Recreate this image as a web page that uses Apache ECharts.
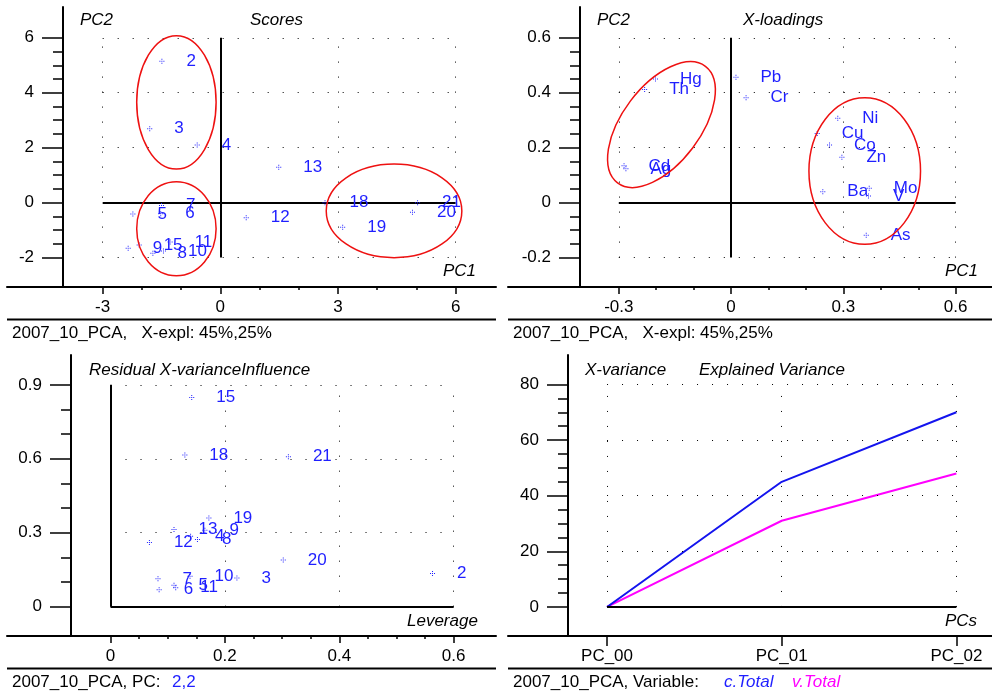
<!DOCTYPE html>
<html><head><meta charset="utf-8">
<script src="https://cdn.jsdelivr.net/npm/echarts@6/dist/echarts.min.js"></script>
<style>html,body{margin:0;padding:0;background:#fff}#c{width:992px;height:696px}</style>
</head><body><div id="c"></div>
<script>
// ---------- data ----------
const sampleIds = ['2','3','4','5','6','7','8','9','10','11','12','13','15','18','19','20','21'];
const scorePC1 = [-1.49,-1.80,-0.59,-2.23,-1.52,-1.50,-1.72,-2.35,-1.45,-1.28,0.66,1.49,-2.07,2.67,3.12,4.90,5.03];
const scorePC2 = [5.15,2.69,2.10,-0.41,-0.40,-0.10,-1.84,-1.66,-1.76,-1.43,-0.55,1.29,-1.54,0.00,-0.90,-0.35,0.00];
const leverage = [0.563,0.221,0.140,0.111,0.085,0.083,0.152,0.165,0.139,0.114,0.068,0.111,0.142,0.130,0.172,0.302,0.311];
const residualVar = [0.135,0.116,0.286,0.087,0.069,0.113,0.272,0.310,0.123,0.077,0.260,0.313,0.849,0.615,0.360,0.189,0.608];
const loadingVars = ['Hg','Th','Cd','Ag','Pb','Cr','Ni','Cu','Co','Zn','Ba','Mo','V','As'];
const loadPC1 = [-0.202,-0.231,-0.286,-0.281,0.013,0.040,0.285,0.230,0.263,0.296,0.245,0.369,0.367,0.361];
const loadPC2 = [0.450,0.412,0.134,0.123,0.456,0.382,0.307,0.252,0.210,0.165,0.040,0.052,0.024,-0.119];
const pcLabels = ['PC_00','PC_01','PC_02'];
const cTotal = [0,45,70];
const vTotal = [0,31,48];

// tick values
const scoreXMajor = [-3,0,3,6], scoreXMinor = [-2,-1,1,2,4,5];
const scoreYMajor = [-2,0,2,4,6], scoreYMinor = [-1.5,-1,-0.5,0.5,1,1.5,2.5,3,3.5,4.5,5,5.5];
const loadXMajor = [-0.3,0,0.3,0.6], loadXMinor = [-0.2,-0.1,0.1,0.2,0.4,0.5];
const loadYMajor = [-0.2,0,0.2,0.4,0.6], loadYMinor = [-0.15,-0.1,-0.05,0.05,0.1,0.15,0.25,0.3,0.35,0.45,0.5,0.55];
const infXMajor = [0,0.2,0.4,0.6], infXMinor = [0.05,0.1,0.15,0.25,0.3,0.35,0.45,0.5,0.55];
const infYMajor = [0,0.3,0.6,0.9], infYMinor = [0.1,0.2,0.4,0.5,0.7,0.8];
const varXMajor = [0,1,2];
const varYMajor = [0,20,40,60,80], varYMinor = [5,10,15,25,30,35,45,50,55,65,70,75];

// ---------- styling ----------
const FONT = '"Liberation Sans", Arial, sans-serif';
const FS = 17;
const BLUE = '#1f1fff';
const dotStyle = {color:'#000', width:1, type:[1,14]};
const solidStyle = {color:'#000', width:2, type:'solid'};
const crossPath = 'path://M2,0h1v1h-1z M0,2h1v1h-1z M4,2h1v1h-1z M2,4h1v1h-1z M2,2h1v1h-1z';

const chart = echarts.init(document.getElementById('c'), null, {renderer:'canvas'});

function xAxes(g, min, max, major, minor, fmt, majorLen, minorLen, margin) {
  const base = {type:'value', gridIndex:g, min, max, position:'bottom', splitLine:{show:false}};
  return [
    Object.assign({}, base, {
      axisLine:{show:true,onZero:false,lineStyle:{color:'#000',width:2}},
      axisTick:{show:true,customValues:major,length:majorLen,lineStyle:{color:'#000',width:1.5}},
      axisLabel:{show:true,customValues:major,margin:margin,color:'#000',fontSize:FS,fontFamily:FONT,formatter:fmt}
    }),
    Object.assign({}, base, {
      axisLine:{show:false,onZero:false},
      axisTick:{show:minor.length>0,customValues:minor.length?minor:[min],length:minorLen,lineStyle:{color:'#000',width:1.5}},
      axisLabel:{show:false}
    })
  ];
}
function yAxes(g, min, max, major, minor, offset) {
  const base = {type:'value', gridIndex:g, min, max, position:'left', offset:offset, splitLine:{show:false}};
  return [
    Object.assign({}, base, {
      axisLine:{show:true,onZero:false,lineStyle:{color:'#000',width:2}},
      axisTick:{show:true,customValues:major,length:21,lineStyle:{color:'#000',width:1.5}},
      axisLabel:{show:true,customValues:major,margin:29,color:'#000',fontSize:FS,fontFamily:FONT}
    }),
    Object.assign({}, base, {
      axisLine:{show:false,onZero:false},
      axisTick:{show:true,customValues:minor,length:10,lineStyle:{color:'#000',width:1.5}},
      axisLabel:{show:false}
    })
  ];
}
function gridLines(rows, cols, xr, yr, zeroH, zeroV) {
  const d = [];
  rows.forEach(r => d.push([{coord:[xr[0],r],lineStyle:dotStyle},{coord:[xr[1],r]}]));
  cols.forEach(c => d.push([{coord:[c,yr[0]],lineStyle:dotStyle},{coord:[c,yr[1]]}]));
  if (zeroH) d.push([{coord:[zeroH[0],0],lineStyle:solidStyle},{coord:[zeroH[1],0]}]);
  if (zeroV) d.push([{coord:[0,zeroV[0]],lineStyle:solidStyle},{coord:[0,zeroV[1]]}]);
  return {silent:true, symbol:['none','none'], label:{show:false}, animation:false, data:d};
}
function scatter(xi, yi, names, xs, ys, ml) {
  return {
    type:'scatter', xAxisIndex:xi, yAxisIndex:yi, symbol:crossPath, symbolSize:5,
    itemStyle:{color:BLUE, opacity:1}, z:5,
    label:{show:true, position:'right', distance:22, color:BLUE, opacity:1, fontSize:FS, fontFamily:FONT, formatter:p=>p.name},
    data: names.map((n,i)=>({name:n, value:[xs[i], ys[i]]})),
    markLine: ml
  };
}

const option = {
  animation:false,
  grid:[
    {left:7, top:7, width:489, height:280},
    {left:508, top:7, width:484, height:280},
    {left:7, top:355, width:489, height:281},
    {left:508, top:355, width:484, height:281}
  ],
  xAxis:[].concat(
    xAxes(0,-5.44,7.03,scoreXMajor,scoreXMinor,null,7,3,12),
    xAxes(1,-0.596,0.697,loadXMajor,loadXMinor,null,7,3,12),
    xAxes(2,-0.181,0.674,infXMajor,infXMinor,null,7,3,12),
    xAxes(3,-0.567,2.204,varXMajor,[],v=>pcLabels[v],10,3,12)
  ),
  yAxis:[].concat(
    yAxes(0,-3.07,7.12,scoreYMajor,scoreYMinor,-56),
    yAxes(1,-0.307,0.712,loadYMajor,loadYMinor,-72),
    yAxes(2,-0.119,1.021,infYMajor,infYMinor,-64),
    yAxes(3,-10.45,90.6,varYMajor,varYMinor,-60)
  ),
  series:[
    scatter(0,0,sampleIds,scorePC1,scorePC2,gridLines([6,4,2,-2],[-3,3,6],[-3,6],[-2,6],[-3,6],[-2,6])),
    scatter(2,2,loadingVars,loadPC1,loadPC2,gridLines([0.6,0.4,0.2,-0.2],[-0.3,0.3,0.6],[-0.3,0.6],[-0.2,0.6],[-0.3,0.6],[-0.2,0.6])),
    scatter(4,4,sampleIds,leverage,residualVar,gridLines([0.9,0.6,0.3],[0.2,0.4,0.6],[0,0.6],[0,0.9],[0,0.6],[0,0.9])),
    {type:'line', name:'c.Total', xAxisIndex:6, yAxisIndex:6, showSymbol:false, symbol:'none',
     lineStyle:{color:'#1414ee',width:2}, z:4,
     data: pcLabels.map((c,i)=>[i,cTotal[i]]),
     markLine: gridLines([80,60,40,20],[0,1,2],[0,2],[0,80],[0,2],null)},
    {type:'line', name:'v.Total', xAxisIndex:6, yAxisIndex:6, showSymbol:false, symbol:'none',
     lineStyle:{color:'#ff00ff',width:2}, z:3,
     data: pcLabels.map((c,i)=>[i,vTotal[i]])}
  ]
};
chart.setOption(option);

// ---------- annotations ----------
function txt(t, x, y, opts) {
  return {type:'text', x, y, z:10, silent:true,
    style:Object.assign({text:t, fill:'#000', fontSize:FS, fontFamily:FONT, verticalAlign:'middle', align:'left'}, opts||{})};
}
function hline(x1, x2, y) {
  return {type:'line', z:10, silent:true, shape:{x1,y1:y,x2,y2:y}, style:{stroke:'#000', lineWidth:2}};
}
const it = {fontStyle:'italic'};
const graphics = [
  txt('PC2',80,20,it), txt('Scores',250,20,it), txt('PC1',443,271,it),
  txt('PC2',597,20,it), txt('X-loadings',743,20,it), txt('PC1',945,271,it),
  txt('Residual X-varianceInfluence',89,370,it), txt('Leverage',407,621,it),
  txt('X-variance',585,370,it), txt('Explained Variance',699,370,it), txt('PCs',945,621,it),
  hline(7,496,319.5), hline(508,992,319.5), hline(7,496,668.5), hline(508,992,668.5),
  txt('2007_10_PCA,   X-expl: 45%,25%',12,333),
  txt('2007_10_PCA,   X-expl: 45%,25%',513,333),
  txt('2007_10_PCA, PC:',12,682), txt('2,2',172,682,{fill:BLUE}),
  txt('2007_10_PCA, Variable:',513,682),
  txt('c.Total',724,682,{fill:BLUE,fontStyle:'italic'}),
  txt('v.Total',792,682,{fill:'#ff00ff',fontStyle:'italic'})
];
// ellipse annotations: centre in data units, semi-axes in px, rotation in degrees
const ellipses = [
  {g:0, c:[-1.12,3.65], rx:39.7, ry:66.7, rot:0},
  {g:0, c:[-1.12,-0.95], rx:39.7, ry:47, rot:0},
  {g:0, c:[4.43,-0.30], rx:67.8, ry:46.8, rot:0},
  {g:1, c:[-0.186,0.284], rx:73, ry:39, rot:53},
  {g:1, c:[0.357,0.115], rx:55.8, ry:73.3, rot:0}
];
ellipses.forEach(e=>{
  const p = chart.convertToPixel({gridIndex:e.g}, e.c);
  graphics.push({type:'ellipse', x:p[0], y:p[1], rotation:e.rot*Math.PI/180, z:8, silent:true,
    shape:{cx:0, cy:0, rx:e.rx, ry:e.ry}, style:{fill:null, stroke:'#ee1111', lineWidth:1.5}});
});
chart.setOption({graphic:graphics});
</script></body></html>
